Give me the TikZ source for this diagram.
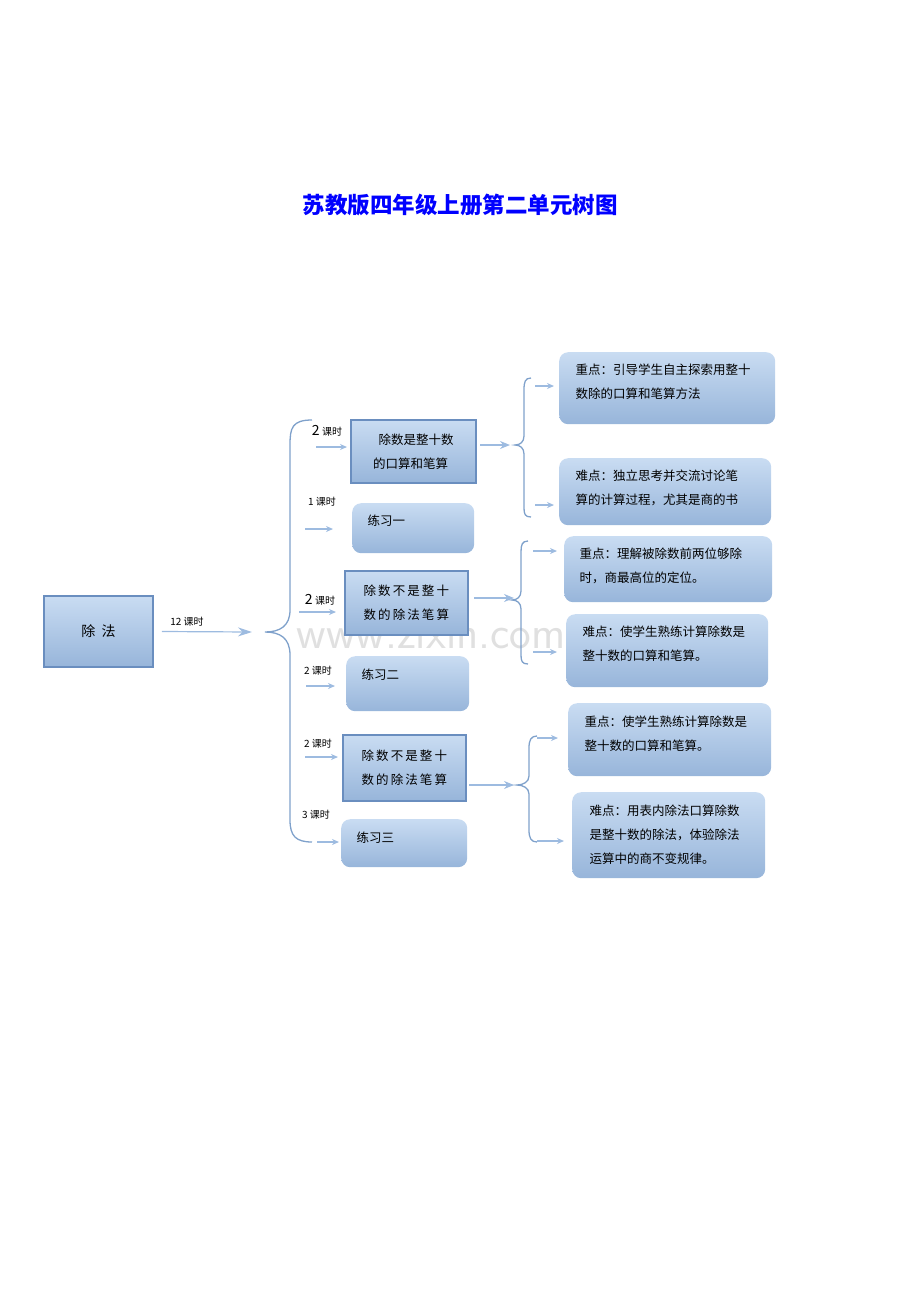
\documentclass[tikz,border=0pt]{standalone}
\usepackage{fontspec}
\setmainfont{Liberation Serif}
\newfontfamily\cjk{Noto Sans CJK SC}
\usetikzlibrary{arrows.meta}
\definecolor{linkblue}{HTML}{9DBBE0}
\definecolor{edgeblue}{HTML}{6A8EBF}
\definecolor{bracecol}{HTML}{7FA1CB}
\definecolor{boxtop}{HTML}{C9DCF2}
\definecolor{boxbot}{HTML}{97B5DA}
\tikzset{
  box/.style={draw=edgeblue,line width=1.6pt,top color=boxtop,bottom color=boxbot,
    align=left,inner sep=0pt,anchor=north west,font=\cjk\fontsize{12.5}{24}\selectfont},
  note/.style={rounded corners=9pt,top color=boxtop,bottom color=boxbot,
    align=left,inner sep=0pt,anchor=north west,font=\cjk\fontsize{12.5}{24}\selectfont},
  link/.style={draw=linkblue,line width=1.2pt,-{Stealth[length=7pt,width=6pt]}},
  hours/.style={font=\cjk\fontsize{10}{12}\selectfont},
  curly/.style={draw=bracecol,line width=1.3pt}
}
\begin{document}
\begin{tikzpicture}[x=1pt,y=-1pt]
\useasboundingbox (0,0) rectangle (920,1302);
\node[font=\cjk\bfseries\fontsize{22.5}{26}\selectfont,text=blue] (title) at (460,205) {苏教版四年级上册第二单元树图};
\node[text=black!12,font=\sffamily\fontsize{46}{50}\selectfont] (mark) at (458,634) {www.zixin.com.cn};

% root
\node[box,minimum width=109pt,minimum height=71pt,align=center,anchor=center,font=\cjk\fontsize{14}{24}\selectfont] (root) at (98.5,631.5) {除\ \ 法};
\coordinate (rootend) at (252,632);
\draw[link,-{Stealth[length=14pt,width=9pt]}] (root.east) ++(8,0) coordinate (rootstart) -- (rootend);
\node[hours] (h0) at (187,622) {12 课时};

% main brace
\draw[curly] (312,420) .. controls (292,420) and (290,428) .. (290,445) -- (290,610)
  .. controls (290,626) and (280,632) .. (265,632)
  .. controls (280,632) and (290,638) .. (290,655) -- (290,820)
  .. controls (290,836) and (296,842) .. (312,842);

% lessons
\node[box,minimum width=125pt,minimum height=63pt] (l1) at (350,419) {};
\node[font=\cjk\fontsize{12.5}{24}\selectfont,align=left] at (l1.center) {\ \ 除数是整十数\\的口算和笔算};
\node[note,minimum width=122pt,minimum height=50pt] (l2) at (352,503) {};
\node[font=\cjk\fontsize{12.5}{24}\selectfont,anchor=west] at (364,521) {练习一};
\node[box,minimum width=123pt,minimum height=64pt] (l3) at (344,570) {};
\node[font=\cjk\fontsize{12.5}{24}\selectfont,align=left] at (l3.center) {除\,数\,不\,是\,整\,十\\数\,的\,除\,法\,笔\,算};
\node[note,minimum width=123pt,minimum height=55pt] (l4) at (346,656) {};
\node[font=\cjk\fontsize{12.5}{24}\selectfont,anchor=west] at (358,675) {练习二};
\node[box,minimum width=123pt,minimum height=66pt] (l5) at (342,734) {};
\node[font=\cjk\fontsize{12.5}{24}\selectfont,align=left] at (l5.center) {除\,数\,不\,是\,整\,十\\数\,的\,除\,法\,笔\,算};
\node[note,minimum width=126pt,minimum height=48pt] (l6) at (341,819) {};
\node[font=\cjk\fontsize{12.5}{24}\selectfont,anchor=west] at (353,838) {练习三};

\node[hours] (h1) at (327,431) {{\fontsize{14}{14}\selectfont 2} 课时};
\node[hours] (h2) at (322,502) {1 课时};
\node[hours] (h3) at (320,600) {{\fontsize{14}{14}\selectfont 2} 课时};
\node[hours] (h4) at (318,671) {2 课时};
\node[hours] (h5) at (318,744) {2 课时};
\node[hours] (h6) at (316,815) {3 课时};

\coordinate (a1) at (316,447); \coordinate (b1) at (347,447);
\coordinate (a2) at (305,529); \coordinate (b2) at (333,529);
\coordinate (a3) at (299,612); \coordinate (b3) at (336,612);
\coordinate (a4) at (306,686); \coordinate (b4) at (335,686);
\coordinate (a5) at (305,757); \coordinate (b5) at (338,757);
\coordinate (a6) at (317,842); \coordinate (b6) at (339,842);
\foreach \i in {1,...,6} \draw[link] (a\i) -- (b\i);

% notes
\node[note,minimum width=216pt,minimum height=72pt] (n1) at (559,352) {};
\node[font=\cjk\fontsize{12.5}{24}\selectfont,align=left,anchor=north west] at (572,360) {重点：引导学生自主探索用整十\\数除的口算和笔算方法};
\node[note,minimum width=212pt,minimum height=67pt] (n2) at (559,458) {};
\node[font=\cjk\fontsize{12.5}{24}\selectfont,align=left,anchor=north west] at (572,466) {难点：独立思考并交流讨论笔\\算的计算过程，尤其是商的书};
\node[note,minimum width=208pt,minimum height=66pt] (n3) at (564,536) {};
\node[font=\cjk\fontsize{12.5}{24}\selectfont,align=left,anchor=north west] at (576,544) {重点：理解被除数前两位够除\\时，商最高位的定位。};
\node[note,minimum width=202pt,minimum height=73pt] (n4) at (566,614) {};
\node[font=\cjk\fontsize{12.5}{24}\selectfont,align=left,anchor=north west] at (579,622) {难点：使学生熟练计算除数是\\整十数的口算和笔算。};
\node[note,minimum width=203pt,minimum height=73pt] (n5) at (568,703) {};
\node[font=\cjk\fontsize{12.5}{24}\selectfont,align=left,anchor=north west] at (581,712) {重点：使学生熟练计算除数是\\整十数的口算和笔算。};
\node[note,minimum width=193pt,minimum height=86pt] (n6) at (572,792) {};
\node[font=\cjk\fontsize{12.5}{24}\selectfont,align=left,anchor=north west] at (586,801) {难点：用表内除法口算除数\\是整十数的除法，体验除法\\运算中的商不变规律。};

% second level arrows and braces
\coordinate (c1) at (480,445); \coordinate (d1) at (510,445);
\coordinate (c3) at (474,598); \coordinate (d3) at (514,598);
\coordinate (c5) at (469,785); \coordinate (d5) at (514,785);
\foreach \i in {1,3,5} \draw[link,-{Stealth[length=10pt,width=8pt]}] (c\i) -- (d\i);

\draw[curly] (531,378) .. controls (525,378) and (524,382) .. (524,390) -- (524,436)
  .. controls (524,442) and (520,445) .. (515,445)
  .. controls (520,445) and (524,448) .. (524,454) -- (524,508)
  .. controls (524,514) and (525,517) .. (531,517);
\draw[curly] (528,541) .. controls (522,541) and (521,545) .. (521,552) -- (521,591)
  .. controls (521,597) and (517,600) .. (512,600)
  .. controls (517,600) and (521,603) .. (521,609) -- (521,655)
  .. controls (521,661) and (522,664) .. (528,664);
\draw[curly] (537,736) .. controls (531,736) and (529,740) .. (529,748) -- (529,776)
  .. controls (529,782) and (523,785) .. (517,785)
  .. controls (523,785) and (529,788) .. (529,794) -- (529,830)
  .. controls (529,838) and (531,842) .. (537,842);

\coordinate (e1) at (535,386); \coordinate (f1) at (554,386);
\coordinate (e2) at (535,505); \coordinate (f2) at (554,505);
\coordinate (e3) at (533,551); \coordinate (f3) at (557,551);
\coordinate (e4) at (533,652); \coordinate (f4) at (557,652);
\coordinate (e5) at (537,738); \coordinate (f5) at (558,738);
\coordinate (e6) at (537,841); \coordinate (f6) at (564,841);
\foreach \i in {1,...,6} \draw[link] (e\i) -- (f\i);
\end{tikzpicture}
\end{document}
